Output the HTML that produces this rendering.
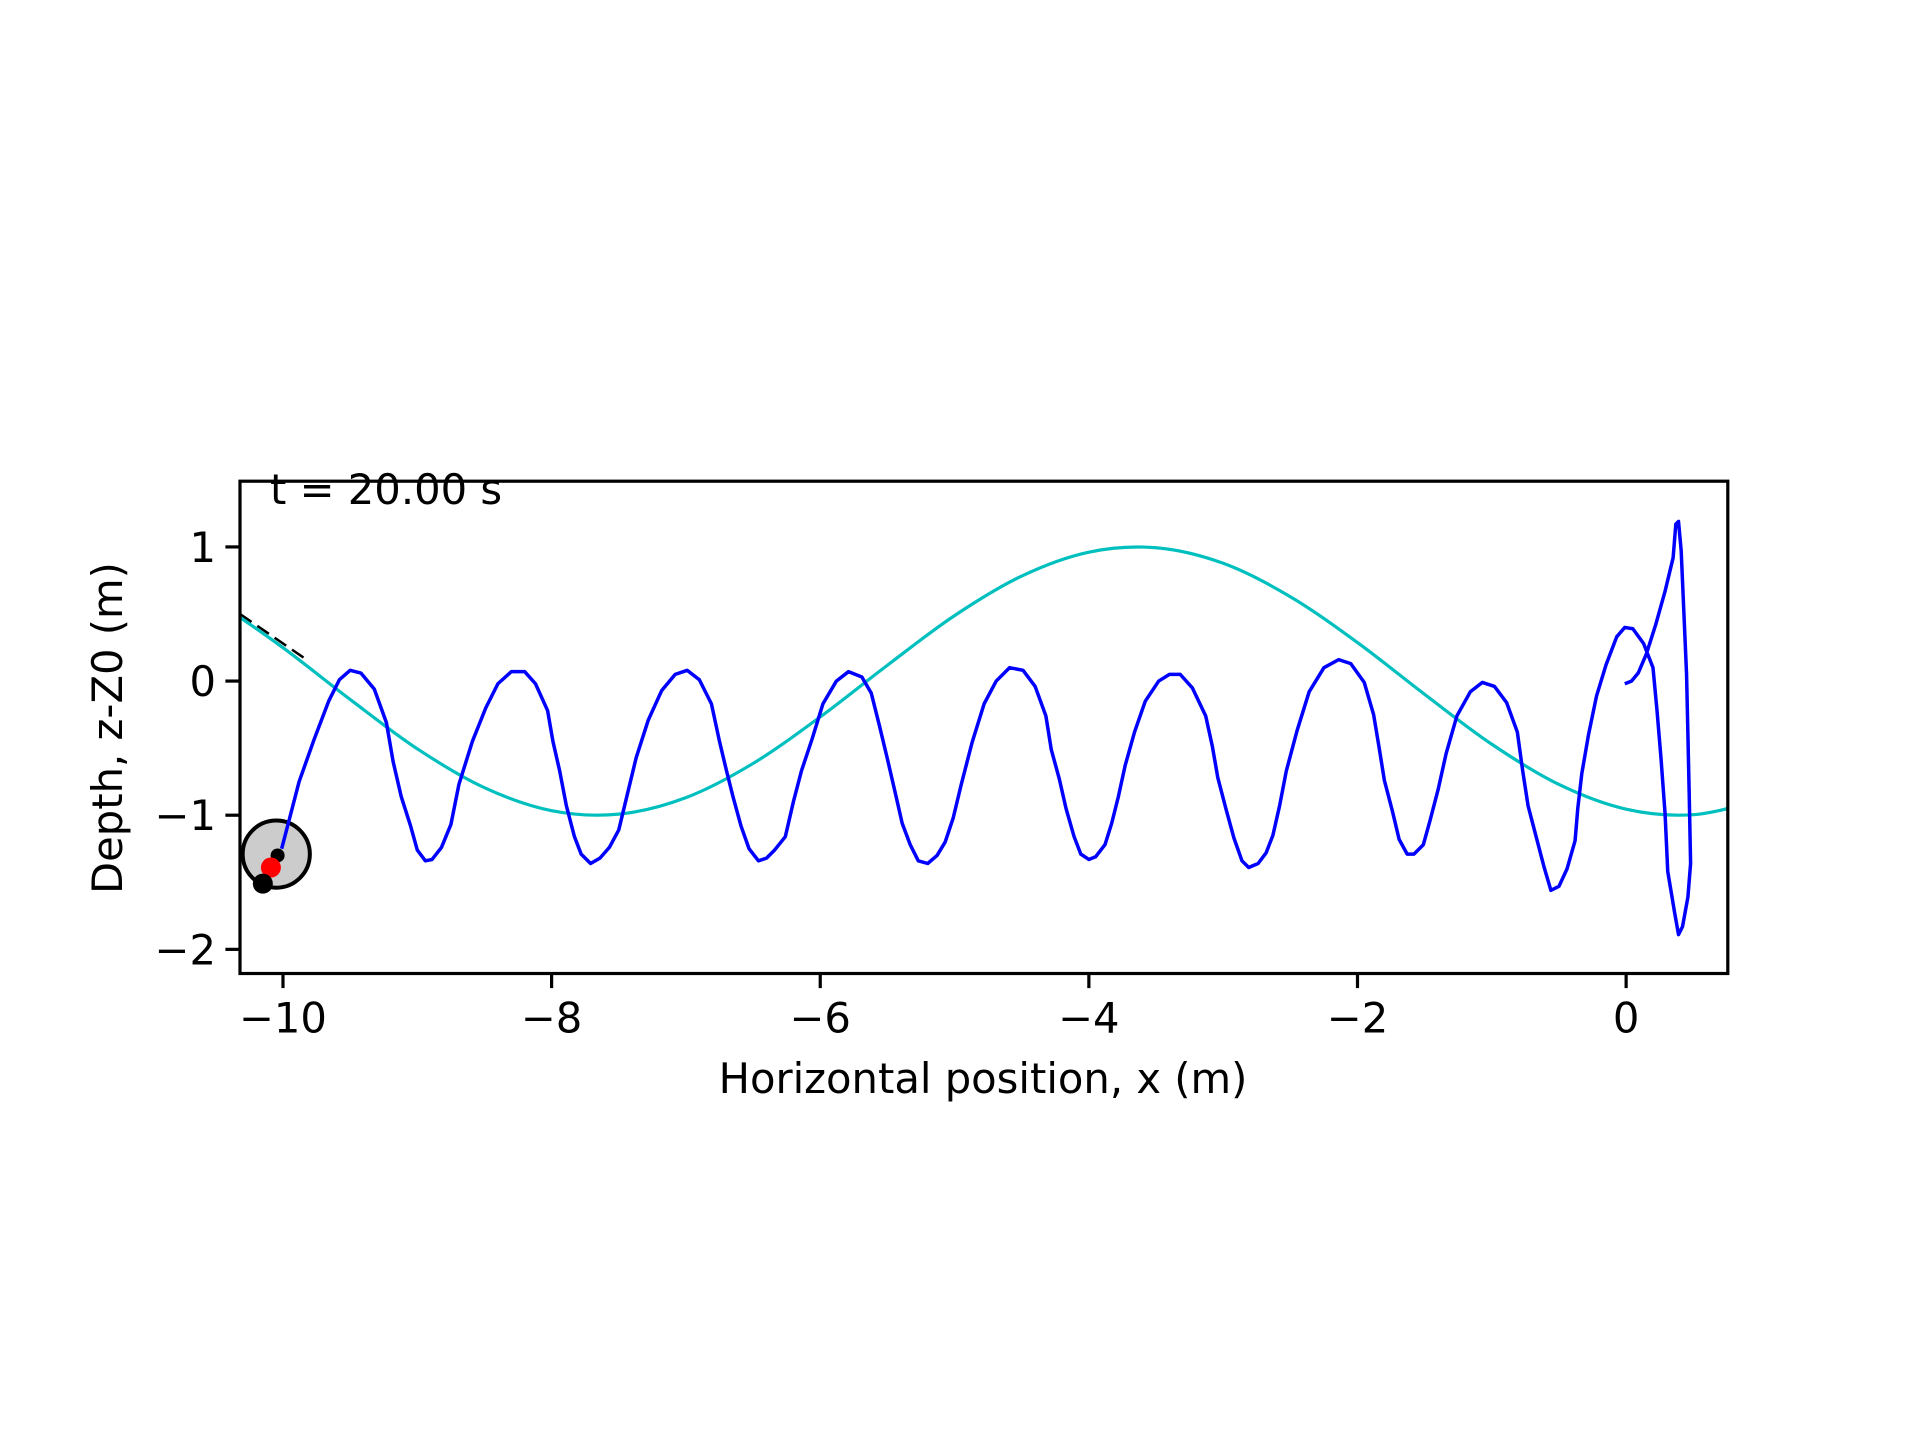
<!DOCTYPE html>
<html><head><meta charset="utf-8"><style>
html,body{margin:0;padding:0;background:#fff;}
svg{display:block;}
text{font-family:"DejaVu Sans","Liberation Sans",sans-serif;fill:#000;}
</style></head><body>
<svg id="chart" width="1920" height="1440" viewBox="0 0 1920 1440">
<rect width="1920" height="1440" fill="#fff"/>
<g id="plot"></g>
</svg>
<script>
const xTicks=[-10,-8,-6,-4,-2,0];
const yTicks=[1,0,-1,-2];
const xTickLabels=["\u221210","\u22128","\u22126","\u22124","\u22122","0"];
const yTickLabels=["1","0","\u22121","\u22122"];
const waveX=[-10.5,-10,-9.5,-9,-8.5,-8,-7.5,-7,-6.5,-6,-5.5,-5,-4.5,-4,-3.5,-3,-2.5,-2,-1.5,-1,-0.5,0,0.5,1];
const waveY=[0.599,0.249,-0.137,-0.505,-0.795,-0.966,-0.992,-0.869,-0.614,-0.267,0.118,0.488,0.783,0.961,0.994,0.878,0.629,0.287,-0.099,-0.471,-0.771,-0.955,-0.996,-0.887];
const pathX=[-10.01,-9.95,-9.88,-9.77,-9.66,-9.58,-9.50,-9.42,-9.32,-9.23,-9.18,-9.12,-9.05,-9.00,-8.94,-8.89,-8.82,-8.75,-8.69,-8.59,-8.49,-8.40,-8.30,-8.20,-8.12,-8.03,-7.99,-7.94,-7.89,-7.83,-7.78,-7.71,-7.64,-7.57,-7.50,-7.44,-7.37,-7.28,-7.18,-7.08,-6.99,-6.90,-6.81,-6.75,-6.70,-6.65,-6.59,-6.53,-6.46,-6.40,-6.34,-6.26,-6.20,-6.14,-6.06,-5.98,-5.88,-5.79,-5.69,-5.62,-5.56,-5.50,-5.44,-5.39,-5.33,-5.27,-5.20,-5.13,-5.07,-5.01,-4.95,-4.87,-4.78,-4.69,-4.59,-4.49,-4.40,-4.32,-4.28,-4.22,-4.17,-4.11,-4.06,-4.00,-3.95,-3.88,-3.83,-3.78,-3.73,-3.66,-3.58,-3.48,-3.40,-3.32,-3.23,-3.13,-3.08,-3.04,-2.98,-2.92,-2.86,-2.81,-2.74,-2.68,-2.63,-2.58,-2.53,-2.45,-2.36,-2.25,-2.14,-2.05,-1.95,-1.88,-1.84,-1.80,-1.74,-1.69,-1.63,-1.58,-1.51,-1.46,-1.40,-1.34,-1.26,-1.16,-1.07,-0.98,-0.89,-0.81,-0.77,-0.73,-0.67,-0.61,-0.56,-0.50,-0.44,-0.38,-0.36,-0.33,-0.28,-0.22,-0.15,-0.07,-0.01,0.05,0.13,0.20,0.23,0.26,0.29,0.31,0.36,0.39,0.42,0.46,0.48,0.47,0.46,0.45,0.43,0.41,0.39,0.37,0.35,0.29,0.22,0.15,0.09,0.04,-0.01];
const pathY=[-1.25,-1.02,-0.75,-0.44,-0.15,0.01,0.08,0.06,-0.06,-0.31,-0.60,-0.86,-1.08,-1.26,-1.34,-1.33,-1.24,-1.07,-0.77,-0.45,-0.20,-0.02,0.07,0.07,-0.02,-0.22,-0.45,-0.67,-0.93,-1.16,-1.29,-1.36,-1.32,-1.24,-1.11,-0.86,-0.57,-0.29,-0.07,0.05,0.08,0.01,-0.17,-0.45,-0.66,-0.86,-1.08,-1.25,-1.34,-1.32,-1.26,-1.16,-0.90,-0.67,-0.43,-0.17,0.00,0.07,0.03,-0.09,-0.33,-0.58,-0.84,-1.06,-1.22,-1.34,-1.36,-1.30,-1.20,-1.02,-0.77,-0.46,-0.17,0.00,0.10,0.08,-0.04,-0.26,-0.51,-0.73,-0.95,-1.16,-1.29,-1.33,-1.31,-1.22,-1.06,-0.86,-0.63,-0.38,-0.15,0.00,0.05,0.05,-0.05,-0.26,-0.49,-0.72,-0.95,-1.17,-1.34,-1.39,-1.36,-1.28,-1.15,-0.93,-0.67,-0.37,-0.08,0.10,0.16,0.13,-0.01,-0.25,-0.49,-0.74,-0.97,-1.18,-1.29,-1.29,-1.22,-1.04,-0.81,-0.54,-0.26,-0.08,-0.01,-0.04,-0.16,-0.38,-0.67,-0.93,-1.16,-1.39,-1.56,-1.53,-1.40,-1.19,-0.95,-0.69,-0.40,-0.11,0.12,0.33,0.40,0.39,0.28,0.10,-0.22,-0.58,-0.99,-1.42,-1.72,-1.89,-1.83,-1.61,-1.36,-0.86,-0.40,0.05,0.51,0.97,1.19,1.17,0.92,0.67,0.42,0.20,0.06,0.00,-0.02];
const bodyCenter=[-10.05,-1.29];
const bodyRadius=0.25;
const dotSmall=[-10.04,-1.30];
const dotRed=[-10.09,-1.39];
const dotBlack=[-10.15,-1.51];
const tetherX=[-10.32,-9.81];
const tetherY=[0.5,0.15];

const NS="http://www.w3.org/2000/svg";
const L=240.0,R=1727.8,T=481.2,B=973.5;
const XMIN=-10.32,XMAX=0.757,YMIN=-2.18,YMAX=1.49;
function X(v){return L+(v-XMIN)/(XMAX-XMIN)*(R-L);}
function Y(v){return B-(v-YMIN)/(YMAX-YMIN)*(B-T);}
const g=document.getElementById('plot');
function mk(tag,attrs){const e=document.createElementNS(NS,tag);for(const k in attrs)e.setAttribute(k,attrs[k]);return e;}

const defs=mk('defs',{});
const cp=mk('clipPath',{id:'clip'});
cp.appendChild(mk('rect',{x:L,y:T,width:R-L,height:B-T}));
defs.appendChild(cp);g.appendChild(defs);
const inner=mk('g',{'clip-path':'url(#clip)'});


g.appendChild(inner);

let pts=waveX.map((x,i)=>[X(x),Y(waveY[i])]);
let d='M'+pts[0][0]+' '+pts[0][1];
for(let i=0;i<pts.length-1;i++){
 const p0=pts[Math.max(0,i-1)],p1=pts[i],p2=pts[i+1],p3=pts[Math.min(pts.length-1,i+2)];
 d+=' C'+(p1[0]+(p2[0]-p0[0])/6)+' '+(p1[1]+(p2[1]-p0[1])/6)+' '+(p2[0]-(p3[0]-p1[0])/6)+' '+(p2[1]-(p3[1]-p1[1])/6)+' '+p2[0]+' '+p2[1];
}
const teth=mk('line',{x1:X(tetherX[0]),y1:Y(tetherY[0]),x2:X(tetherX[1]),y2:Y(tetherY[1]),stroke:'#000','stroke-width':2.5,'stroke-dasharray':'14 7'});


inner.appendChild(teth);

const wave=mk('path',{d:d,fill:'none',stroke:'#00bfbf','stroke-width':3.2});


inner.appendChild(wave);

const body=mk('circle',{cx:X(bodyCenter[0]),cy:Y(bodyCenter[1]),r:(X(bodyRadius)-X(0)),fill:'#cccccc',stroke:'#000','stroke-width':4});


inner.appendChild(body);

const path=mk('polyline',{points:pathX.map((x,i)=>X(x)+','+Y(pathY[i])).join(' '),fill:'none',stroke:'#0000ff','stroke-width':3.5,'stroke-linejoin':'round'});


inner.appendChild(path);

const d1=mk('circle',{cx:X(dotSmall[0]),cy:Y(dotSmall[1]),r:7,fill:'#000'});


inner.appendChild(d1);
const d2=mk('circle',{cx:X(dotRed[0]),cy:Y(dotRed[1]),r:10,fill:'#ff0000'});


inner.appendChild(d2);
const d3=mk('circle',{cx:X(dotBlack[0]),cy:Y(dotBlack[1]),r:10,fill:'#000'});


inner.appendChild(d3);

const frame=mk('rect',{x:L,y:T,width:R-L,height:B-T,fill:'none',stroke:'#000','stroke-width':3.2});


g.appendChild(frame);

xTicks.forEach((v,i)=>{
 const t=mk('line',{x1:X(v),x2:X(v),y1:B,y2:B+14.6,stroke:'#000','stroke-width':3.2});
 
 
 g.appendChild(t);
 const tx=mk('text',{x:X(v),y:B+59,'text-anchor':'middle','font-size':41.7});
 
 
 tx.textContent=xTickLabels[i];g.appendChild(tx);
});
yTicks.forEach((v,i)=>{
 const t=mk('line',{x1:L-14.6,x2:L,y1:Y(v),y2:Y(v),stroke:'#000','stroke-width':3.2});
 
 
 g.appendChild(t);
 const tx=mk('text',{x:L-24,y:Y(v)+15,'text-anchor':'end','font-size':41.7});
 
 
 tx.textContent=yTickLabels[i];g.appendChild(tx);
});
</script>
<div style="position:absolute;left:0;top:0;width:1920px;height:1440px;pointer-events:none;">
<svg width="1920" height="1440" style="position:absolute;left:0;top:0">
<text x="270" y="504" font-size="41.7">t = 20.00 s</text>
<text x="983" y="1093" font-size="41.7" text-anchor="middle">Horizontal position, x (m)</text>
<text x="0" y="0" font-size="41.7" text-anchor="middle" transform="translate(122,728) rotate(-90)">Depth, z-Z0 (m)</text>
</svg>
</div>
</body></html>
